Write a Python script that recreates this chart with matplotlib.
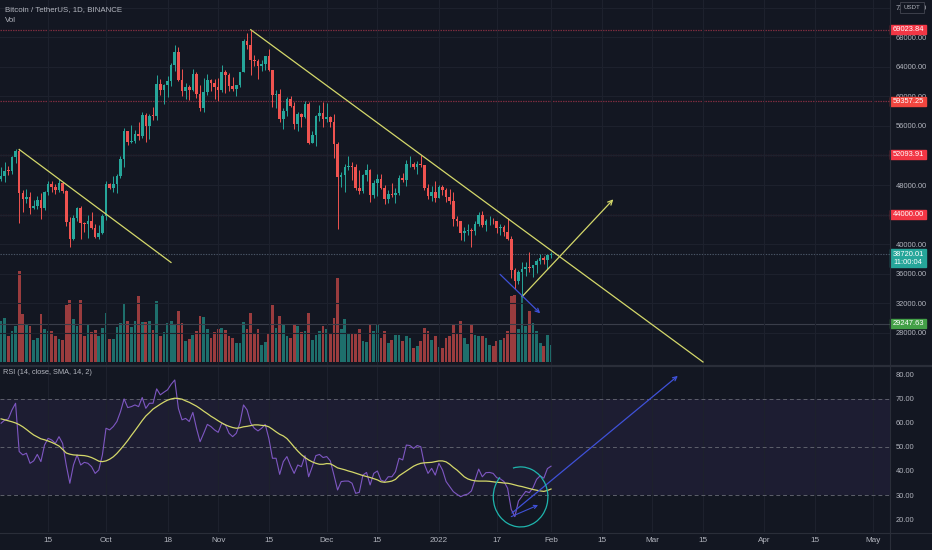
import numpy as np
import pandas as pd
import matplotlib
matplotlib.use("Agg")
import matplotlib.pyplot as plt
import matplotlib.dates as mdates
from matplotlib.patches import Rectangle, Arc
from matplotlib.lines import Line2D
from matplotlib.transforms import blended_transform_factory

# --- datos (BTCUSDT diario, 2 sep 2021 - 1 feb 2022) ---
dates = pd.date_range("2021-09-02", "2022-02-01", freq="D")

opens = [
    48810, 49250, 49940, 49920, 51760, 52660, 46860, 46050, 46400, 44850, 45150, 46030, 44960, 47110, 48120,
    47750, 47300, 48310, 47260, 43010, 40720, 43540, 44870, 42810, 42700, 43170, 42240, 41030, 41520,
    43790, 48140, 47640, 48200, 49220, 51470, 55320, 53790, 53950, 54950, 54660, 57490, 56000, 57370, 57350,
    61670, 60880, 61530, 62010, 64280, 66000, 62210, 60690, 61290, 60860, 63080, 60330, 58450, 60590, 62250, 61860,
    61300, 60910, 63220, 62930, 61440, 61010, 61530, 63270, 67530, 66930, 64860, 64770, 64130, 64400, 65470,
    63560, 60140, 60350, 56890, 58050, 59700, 58620, 56250, 57570, 57150, 58960, 53730, 54720, 57270, 57800,
    56950, 57180, 56480, 53600, 49150, 49400, 50440, 50590, 50470, 47550, 47140, 49390, 50050, 46700, 48340,
    48860, 47630, 46130, 46830, 46680, 46910, 48940, 48630, 50820, 50840, 50430, 50800, 50720, 47540, 46460, 47120,
    46220, 47720, 47290, 46440, 45830, 43450, 43080, 41560, 41730, 41860, 41820, 42740, 43920, 42590, 43100,
    43180, 43110, 42250, 42380, 41660, 40680, 36450, 35070, 36280, 36650, 36950, 36840, 37130, 37710, 38170, 37920,
    38480,
]
highs = [
    50400, 51050, 50560, 51900, 52920, 52920, 47360, 47400, 47030, 45970, 46460, 46880, 47250, 48490, 48500,
    48160, 48810, 48370, 47330, 43640, 44000, 44980, 45200, 42970, 43950, 44350, 42790, 42600, 44130,
    48490, 48330, 49230, 49530, 51890, 55750, 55330, 56100, 55490, 56560, 57840, 57680, 57620, 58530, 62930,
    62400, 61720, 62700, 64490, 67000, 66640, 63730, 61750, 61500, 63710, 63290, 61500, 62500, 62980, 62350, 62400,
    62440, 64270, 63500, 63120, 62600, 61560, 63290, 67790, 68530, 69000, 65600, 65000, 64970, 65500, 66400,
    63560, 60820, 60980, 58370, 59850, 60030, 59270, 57880, 57800, 59400, 59180, 55330, 57450, 58870, 59250,
    59050, 57380, 57600, 53860, 49700, 50880, 51930, 51170, 50800, 50100, 49490, 50800, 50200, 48700, 49500,
    49430, 47990, 47360, 48300, 47540, 49330, 49580, 51380, 51870, 51160, 51300, 52090, 50720, 48140, 47900, 48550,
    47950, 47990, 47570, 47500, 47070, 43820, 43150, 42300, 42790, 42250, 43100, 44350, 44460, 43450, 43800,
    43480, 43200, 42690, 42580, 43500, 41100, 36840, 36500, 37550, 37550, 38920, 37230, 38000, 38720, 38360, 38740,
    39000,
]
lows = [
    48580, 48350, 49410, 49500, 50950, 42850, 44400, 45510, 44130, 44720, 44740, 43370, 44680, 46700, 47020,
    46750, 47040, 46860, 42500, 39600, 40570, 43090, 40680, 41650, 40780, 42100, 40880, 40750, 41400,
    43280, 47420, 47100, 46890, 49000, 50380, 53360, 53620, 53660, 54080, 54420, 53880, 54250, 56820, 56850,
    60150, 58960, 59840, 61330, 63480, 62000, 60000, 59700, 59510, 60650, 59820, 58000, 57820, 60170, 60720, 59600,
    59400, 60620, 60380, 60680, 60720, 60080, 61320, 63270, 66380, 62820, 64100, 62300, 63400, 63580, 63400,
    58600, 58370, 56500, 55580, 57350, 58490, 55610, 55320, 55840, 57000, 53500, 53670, 53260, 56670, 55880,
    56460, 55840, 51680, 42000, 47720, 47100, 50040, 48640, 47320, 46850, 46900, 48600, 45670, 46290, 46550,
    47530, 45460, 45520, 46410, 45560, 46630, 48420, 47930, 50400, 50200, 49450, 50500, 47310, 46100, 45900, 45680,
    46210, 46650, 45700, 45500, 42500, 42430, 40610, 40500, 41200, 39650, 41270, 42450, 42310, 41730, 42570,
    42690, 41540, 41250, 41140, 40550, 35440, 34010, 34600, 32920, 35700, 36230, 35510, 36160, 37300, 37350, 36630,
    38100,
]
closes = [
    49250, 49940, 49920, 51760, 52660, 46860, 46050, 46400, 44850, 45150, 46030, 44960, 47110, 48120, 47750,
    47300, 48310, 47260, 43010, 40720, 43540, 44870, 42810, 42700, 43170, 42240, 41030, 41520, 43790,
    48140, 47640, 48200, 49220, 51470, 55320, 53790, 53950, 54950, 54660, 57490, 56000, 57370, 57350, 61670,
    60880, 61530, 62010, 64280, 66000, 62210, 60690, 61290, 60860, 63080, 60330, 58450, 60590, 62250, 61860, 61300,
    60910, 63220, 62930, 61440, 61010, 61530, 63270, 67530, 66930, 64860, 64770, 64130, 64400, 65470, 63560,
    60140, 60350, 56890, 58050, 59700, 58620, 56250, 57570, 57150, 58960, 53730, 54720, 57270, 57800, 56950,
    57180, 56480, 53600, 49150, 49400, 50440, 50590, 50470, 47550, 47140, 49390, 50050, 46700, 48340, 48860,
    47630, 46130, 46830, 46680, 46910, 48940, 48630, 50820, 50840, 50430, 50800, 50720, 47540, 46460, 47120, 46220,
    47720, 47290, 46440, 45830, 43450, 43080, 41560, 41730, 41860, 41820, 42740, 43920, 42590, 43100, 43180,
    43110, 42250, 42380, 41660, 40680, 36450, 35070, 36280, 36650, 36950, 36840, 37130, 37710, 38170, 37920, 38480,
    38720,
]
# volumen en miles de BTC (estimado)
volume = [
    57, 62, 36, 43, 51, 127, 68, 52, 51, 31, 34, 68, 46, 44, 43, 36, 32, 31, 80, 87, 60, 51, 87, 36, 52, 42, 45, 36, 48,
    69, 32, 32, 49, 55, 83, 57, 49, 57, 93, 56, 56, 58, 45, 85, 37, 42, 55, 57, 54, 71, 55, 29, 33, 38, 43, 64, 63, 46, 34, 42,
    46, 48, 45, 37, 34, 27, 27, 56, 46, 69, 40, 46, 24, 28, 40, 80, 48, 64, 52, 36, 34, 54, 51, 42, 44, 69, 31, 38, 43, 51,
    46, 41, 62, 118, 46, 60, 40, 40, 40, 46, 30, 28, 54, 43, 54, 34, 44, 27, 31, 38, 38, 29, 37, 34, 20, 23, 30, 48, 43, 31, 37,
    21, 20, 34, 37, 54, 41, 57, 34, 26, 52, 38, 37, 36, 34, 24, 22, 29, 31, 34, 44, 93, 94, 46, 94, 51, 72, 55, 43, 27, 23, 38,
    24,
]
rsi = [
    59.9, 61.2, 61.7, 65.4, 68.2, 48.1, 46.7, 47.4, 43.2, 44.2, 46.9, 43.9, 50.8, 53.6, 52.9, 51.5, 54.3, 51.5, 42.5, 34.9,
    42.5, 46.7, 42.5, 43.6, 43.2, 41.8, 39.0, 40.4, 46.7,
    57.8, 57.1, 58.5, 60.6, 64.7, 70.0, 66.4, 66.8, 67.5, 66.8, 70.6, 66.1, 68.2, 68.2, 74.2, 71.7, 72.8, 73.8, 76.1, 77.9,
    66.1, 61.3, 61.9, 60.6, 64.4, 57.8, 52.2, 55.7, 59.4, 58.5, 57.1,
    56.1, 59.9, 59.2, 55.7, 54.3, 55.7, 59.9, 67.5, 65.4, 59.9, 57.8, 56.7, 57.8, 59.4, 53.6, 45.3, 45.3, 38.6, 43.9, 46.0,
    42.2, 39.0, 42.5, 41.8, 46.4, 37.6, 41.8, 46.4, 46.9, 45.6,
    46.0, 44.2, 38.3, 32.1, 35.6, 35.8, 35.8, 34.9, 30.7, 31.1, 38.3, 39.4, 34.2, 39.0, 40.0, 36.2, 35.6, 37.6, 37.6, 39.7,
    45.3, 44.6, 50.8, 50.6, 49.4, 50.6, 50.1, 42.8, 39.0, 41.1, 38.3,
    43.2, 40.4, 35.6, 33.5, 31.4, 30.3, 29.3, 30.0, 30.4, 31.7, 36.2, 40.8, 37.6, 39.3, 39.4, 39.0, 37.2, 36.7, 35.6, 32.8,
    24.0, 21.0, 27.5, 29.5, 31.5, 31.0, 33.0, 36.5, 38.0, 37.0, 41.0,
    42.0,
]
rsi_sma = [
    61.7, 61.3, 60.9, 60.5, 60.0, 59.3, 58.4, 57.3, 56.1, 55.0, 54.2, 53.4, 53.0, 52.5, 51.9, 51.2, 50.4, 49.0, 47.5, 47.0,
    46.7, 46.6, 46.5, 46.4, 46.1, 45.6, 44.9, 44.1, 43.9,
    44.2, 44.9, 45.9, 47.3, 49.0, 50.8, 52.7, 54.8, 56.8, 58.9, 61.0, 62.9, 64.3, 65.8, 66.8, 67.8, 68.7, 69.5, 70.0, 70.3,
    70.2, 69.9, 69.2, 68.6, 67.8, 67.0, 66.0, 64.9, 63.9, 62.8, 61.9,
    60.9, 60.0, 59.2, 58.6, 58.1, 57.8, 58.0, 58.4, 58.6, 58.9, 59.2, 59.2, 59.0, 58.9, 58.4, 57.4, 56.3, 55.3, 54.6, 53.5,
    51.8, 50.0, 48.3, 46.8, 45.6, 44.6, 43.8, 43.2, 42.8, 42.8,
    43.1, 43.0, 42.2, 41.3, 40.9, 40.5, 40.0, 39.6, 39.1, 38.6, 38.1, 37.7, 37.3, 36.8, 36.3, 35.5, 35.3, 35.5, 35.8, 36.5,
    38.0, 39.0, 40.0, 41.0, 42.0, 42.7, 43.2, 43.4, 43.5, 43.6, 43.9,
    44.2, 44.2, 43.8, 42.8, 41.5, 40.4, 39.0, 37.6, 36.7, 36.2, 35.9, 35.8, 35.8, 35.8, 35.7, 35.5, 35.3, 35.2, 35.0, 34.9,
    34.6, 34.2, 33.8, 33.5, 33.1, 32.7, 32.3, 32.0, 31.7, 31.5, 31.9,
    32.5,
]

# niveles horizontales dibujados
levels_red = [69023.84, 59357.25, 52093.91, 44000.00]
last_price = 38720.01
level_green = 29247.63
price_ticks = list(range(28000, 72001, 4000))
hidden_ticks = [44000, 52000]  # tapados por completo por las etiquetas de nivel
rsi_ticks = [20, 30, 40, 50, 60, 70, 80]

tick_dates = ["2021-09-15", "2021-10-01", "2021-10-18", "2021-11-01", "2021-11-15", "2021-12-01",
              "2021-12-15", "2022-01-01", "2022-01-17", "2022-02-01", "2022-02-15", "2022-03-01",
              "2022-03-15", "2022-04-01", "2022-04-15", "2022-05-01"]
tick_labels = ["15", "Oct", "18", "Nov", "15", "Dec", "15", "2022", "17", "Feb", "15", "Mar",
               "15", "Apr", "15", "May"]

# --- estilo ---
W, H = 932, 550
BG = "#131722"
GRID = "#1d212d"
TXT = "#b2b5be"
UP = "#26a69a"
DOWN = "#ef5350"
YEL = "#d4d86a"
BLUE = "#3f51d8"
FONT = "Liberation Sans"
FS = 5.4

plt.rcParams["font.family"] = FONT

fig = plt.figure(figsize=(W / 100, H / 100), dpi=100, facecolor=BG)
RIGHT = 890
ax = fig.add_axes([0, 1 - 365 / H, RIGHT / W, 365 / H])
rax = fig.add_axes([0, 1 - 532 / H, RIGHT / W, (532 - 367) / H], sharex=ax)
vax = ax.twinx()
for a in (ax, rax, vax):
    a.set_facecolor("none")
    for s in a.spines.values():
        s.set_visible(False)
vax.set_zorder(ax.get_zorder() - 1)
ax.set_zorder(vax.get_zorder() + 1)

x = mdates.date2num(dates)
px_day = 3.618
x0 = x[0] - 1.1 / px_day
ax.set_xlim(x0, x0 + RIGHT / px_day)
ax.set_ylim(23674, 73017)
vax.set_ylim(-4, 507)
rax.set_ylim(14.6, 83.3)

# rejilla
tx = mdates.date2num(pd.to_datetime(tick_dates))
for a in (ax, rax):
    a.set_xticks(tx)
    a.tick_params(axis="x", length=0)
    a.grid(axis="x", color=GRID, lw=0.8)
ax.tick_params(axis="x", labelbottom=False)
rax.set_xticklabels(tick_labels)
rax.tick_params(axis="x", colors=TXT, labelsize=FS + 0.5, pad=3.5)

ax.yaxis.tick_right()
ax.set_yticks(price_ticks)
ax.set_yticklabels(["" if p in hidden_ticks else f"{p:.2f}" for p in price_ticks])
ax.tick_params(axis="y", length=0, colors=TXT, labelsize=FS, pad=4)
ax.grid(axis="y", color=GRID, lw=0.8)
vax.set_yticks([])

rax.yaxis.tick_right()
rax.set_yticks(rsi_ticks)
rax.set_yticklabels([f"{v:.2f}" for v in rsi_ticks])
rax.tick_params(axis="y", length=0, colors=TXT, labelsize=FS, pad=4)

# volumen
vcol = [UP if c >= o else DOWN for o, c in zip(opens, closes)]
vax.bar(x, volume, width=0.75, color=vcol, alpha=0.62, linewidth=0)

# velas
ccol = np.array(vcol)
ax.vlines(x, lows, highs, colors=ccol, lw=0.7, zorder=3)
body_lo = np.minimum(opens, closes)
body_h = np.maximum(np.abs(np.array(closes) - np.array(opens)), 80)
ax.bar(x, body_h, bottom=body_lo, width=0.72, color=ccol, linewidth=0, zorder=4)

# niveles
for lv in levels_red:
    ax.axhline(lv, color="#7a2c3e", lw=0.9, ls=(0, (1.2, 0.8)), zorder=1)
ax.axhline(last_price, color="#4a5666", lw=0.8, ls=(0, (1.2, 1.2)), zorder=1)
ax.axhline(level_green, color="#3a3e4a", lw=0.8, zorder=1)


# lineas de tendencia y flechas
def d(s):
    return mdates.date2num(pd.Timestamp(s))


ax.plot([d("2021-09-07"), d("2021-10-18 23:00")], [52810, 37540], color=YEL, lw=0.9, zorder=5)
ax.plot([d("2021-11-10"), d("2022-03-15")], [69000, 24079], color=YEL, lw=0.9, zorder=5)
ax.annotate("", xy=(d("2022-02-18 05:00"), 46070), xytext=(d("2022-01-24"), 32920),
            arrowprops=dict(arrowstyle="->", color=YEL, lw=0.9, mutation_scale=8, shrinkA=0, shrinkB=0),
            zorder=5)
ax.annotate("", xy=(d("2022-01-29"), 30660), xytext=(d("2022-01-17 22:00"), 35930),
            arrowprops=dict(arrowstyle="->", color=BLUE, lw=0.9, mutation_scale=7, shrinkA=0, shrinkB=0),
            zorder=5)

# RSI
rax.axhspan(30, 70, color="#7e57c2", alpha=0.1, lw=0)
for lv in (70, 50, 30):
    rax.axhline(lv, color="#5d606b", lw=0.7, ls=(0, (4, 3)))
rax.plot(x, rsi, color="#7e57c2", lw=0.8, zorder=3)
rax.plot(x, rsi_sma, color=YEL, lw=0.9, zorder=4)
rax.annotate("", xy=(d("2022-03-08 01:00"), 79.6), xytext=(d("2022-01-21 05:00"), 22.5),
             arrowprops=dict(arrowstyle="->", color=BLUE, lw=0.9, mutation_scale=7, shrinkA=0, shrinkB=0),
             zorder=5)
rax.annotate("", xy=(d("2022-01-28 10:00"), 25.8), xytext=(d("2022-01-21"), 21.0),
             arrowprops=dict(arrowstyle="->", color=BLUE, lw=0.8, mutation_scale=6, shrinkA=0, shrinkB=0),
             zorder=5)
rax.add_patch(Arc((d("2022-01-23 14:00"), 29.2), 15.1, 25, theta1=125, theta2=460,
                  color="#1fb5ad", lw=0.9, zorder=5))

# etiquetas del eje de precios
tr = blended_transform_factory(ax.transAxes, ax.transData)
bw = 36 / RIGHT
ppx = (73017 - 23674) / 365.0


def price_box(val, color, h_px=9, text=None, second=None):
    h = h_px * ppx
    ax.add_patch(Rectangle((1.0, val - h / 2), bw, h, transform=tr, color=color,
                           clip_on=False, zorder=10))
    label = text if text is not None else f"{val:.2f}"
    if second is None:
        ax.text(1.0035, val, label, transform=tr, color="white", fontsize=FS,
                va="center", ha="left", clip_on=False, zorder=11)
    else:
        ax.text(1.0035, val + h * 0.22, label, transform=tr, color="white", fontsize=FS,
                va="center", ha="left", clip_on=False, zorder=11)
        ax.text(1.0035, val - h * 0.24, second, transform=tr, color="white", fontsize=FS,
                va="center", ha="left", clip_on=False, zorder=11)


for lv, col in zip(levels_red, ["#f23645", "#f2463f", "#f23645", "#f23645"]):
    price_box(lv, col)
price_box(last_price - 600, UP, h_px=18, text=f"{last_price:.2f}", second="11:00:04")
price_box(level_green, "#43a047")

# recuadro USDT
ax.add_patch(Rectangle((1.011, 72000 - 5.5 * ppx), 24 / RIGHT, 11 * ppx, transform=tr,
                       facecolor=BG, edgecolor="#434651", lw=0.6, clip_on=False, zorder=10))
ax.text(1.0245, 72000, "USDT", transform=tr, color=TXT, fontsize=FS - 1, va="center", ha="center",
        clip_on=False, zorder=11)

# textos
fig.text(5 / W, 1 - 10 / H, "Bitcoin / TetherUS, 1D, BINANCE", color=TXT, fontsize=5.7,
         va="center", ha="left")
fig.text(5 / W, 1 - 21 / H, "Vol", color=TXT, fontsize=5.7, va="center", ha="left")
fig.text(3 / W, 1 - 373 / H, "RSI (14, close, SMA, 14, 2)", color=TXT, fontsize=5.3,
         va="center", ha="left")

# separadores
fig.add_artist(Line2D([0, 1], [1 - 366 / H] * 2, color="#2a2e39", lw=1.6))
fig.add_artist(Line2D([0, 1], [1 - 532.5 / H] * 2, color="#2a2e39", lw=0.8))
fig.add_artist(Line2D([RIGHT / W] * 2, [0, 1], color="#2a2e39", lw=0.8))

fig.savefig("out.png", dpi=100, facecolor=BG)
